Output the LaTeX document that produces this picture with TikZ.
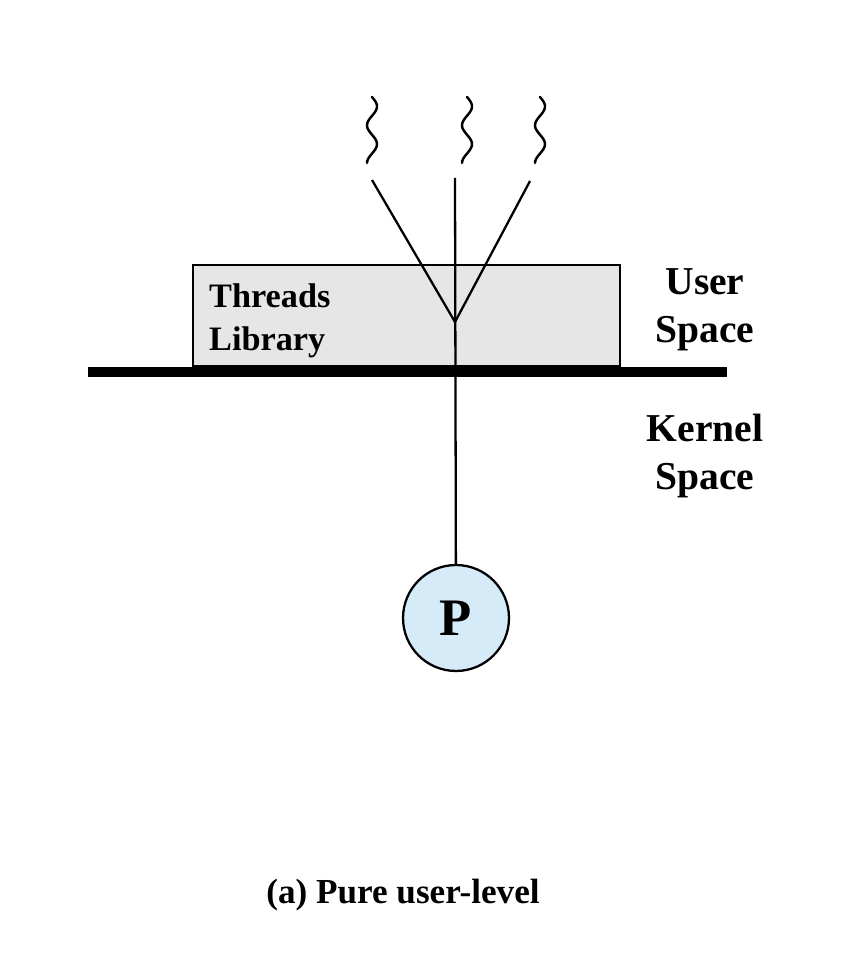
\documentclass[tikz,border=0pt]{standalone}
\usepackage{fontspec}
\setmainfont{Liberation Serif}
\definecolor{libgray}{HTML}{E6E6E6}
\definecolor{procblue}{HTML}{D5EBF8}
\tikzset{
  thin line/.style={line width=1.3pt},
  label text/.style={font=\bfseries\fontsize{22.5}{27.5}\selectfont, align=center},
  wiggle/.style={line width=1.4pt, smooth, samples=60, line cap=round}
}
\begin{document}
\begin{tikzpicture}[x=0.02cm, y=-0.02cm]
\useasboundingbox (0,0) rectangle (852,972);
% threads library box
\filldraw[fill=libgray, thin line](193,265) rectangle (620,366);
\node[anchor=west, align=left, font=\bfseries\fontsize{19.5}{24.5}\selectfont] (lib) at (203,321) {Threads\\Library};
% the three threads
\foreach \xx in {372,467,540}{
  \draw[wiggle, domain=97:163] plot ({\xx+5*sin((\x-97)/66*630)}, \x);
}
\coordinate (t1) at (372,180);
\coordinate (t2) at (455,178);
\coordinate (t3) at (530,181);
\coordinate (fork) at (455,322);
\node[circle, draw, thin line, fill=procblue, minimum size=2.12cm, inner sep=0pt, font=\bfseries\fontsize{30}{36}\selectfont] (P) at (456,618) {P};
\draw[thin line](t1)--(fork)--(t3);
\draw[thin line](t2)--(P);
% user/kernel boundary
\coordinate (barL) at (88,372);
\coordinate (barR) at (727,372);
\draw[line width=5.7pt](barL)--(barR);
\node[label text] (user) at (705,310) {User\\Space};
\node[label text] (kern) at (705,456) {Kernel\\Space};
\node[font=\bfseries\fontsize{20}{24}\selectfont] (cap) at (403,895) {(a) Pure user-level};
\end{tikzpicture}
\end{document}
